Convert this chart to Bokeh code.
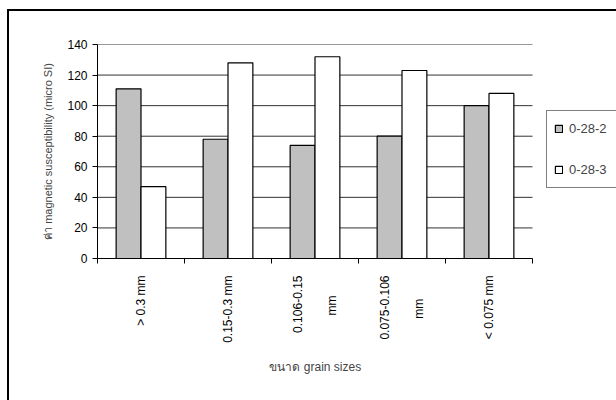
import numpy as np
from bokeh.plotting import figure
from bokeh.models import ColumnDataSource, FixedTicker, Legend, LegendItem
from bokeh.embed import file_html
from bokeh.resources import INLINE

# grain-size classes and magnetic susceptibility (micro SI) for two samples
NB = "\u00a0"
categories = ["> 0.3 mm",
              "0.15-0.3 mm",
              "0.106-0.15\n\nmm" + NB * 6,
              "0.075-0.106\n\nmm" + NB * 7,
              "< 0.075 mm"]
sample_a_name = "0-28-2"
sample_b_name = "0-28-3"
sample_a = [111, 78, 74, 80, 100]
sample_b = [47, 128, 132, 123, 108]
y_ticks = [0, 20, 40, 60, 80, 100, 120, 140]
x_title = "ขนาด grain sizes"
y_title = "ค่า magnetic susceptibility (micro SI)"

FONT = "Liberation Sans"
bar_w = 1 / 3.5  # two bars plus a 150% gap per class

# canvas geometry: bar area is 435 px wide, the remaining strip on the right holds the legend
W, H = 616, 400
LEFT, TOP, BOTTOM = 97, 44, 142
BAR_AREA = 435
n = len(categories)
x_end = n * (W - LEFT) / BAR_AREA

centers = np.arange(n) + 0.5
src_a = ColumnDataSource(dict(x=centers - bar_w / 2, top=sample_a))
src_b = ColumnDataSource(dict(x=centers + bar_w / 2, top=sample_b))

p = figure(width=W, height=H, output_backend="svg", toolbar_location=None,
           x_range=(0, x_end), y_range=(0, 140),
           min_border_left=LEFT, min_border_right=0,
           min_border_top=TOP, min_border_bottom=BOTTOM)
p.outline_line_color = None
p.background_fill_color = "white"
p.border_fill_color = None

# outer chart border (left and top edges), painted behind the transparent border area
p.styles = {
    "background-color": "white",
    "background-image": "linear-gradient(#000,#000), linear-gradient(#000,#000)",
    "background-size": "2px 100%, 100% 2px",
    "background-position": "7px 9px, 7px 9px",
    "background-repeat": "no-repeat",
}

# horizontal gridlines over the bar area only
grid_y = y_ticks[1:]
p.segment(x0=[0] * len(grid_y), x1=[n] * len(grid_y), y0=grid_y, y1=grid_y,
          line_color="#333333", line_width=1)

ra = p.vbar(x="x", top="top", width=bar_w, source=src_a,
            fill_color="#C0C0C0", line_color="black", line_width=1.2)
rb = p.vbar(x="x", top="top", width=bar_w, source=src_b,
            fill_color="white", line_color="black", line_width=1.2)

# x axis: labels at class centres, ticks at class boundaries
xa = p.xaxis[0]
xa.bounds = (0, n)
xa.ticker = FixedTicker(ticks=list(centers), minor_ticks=list(range(n + 1)))
xa.major_label_overrides = {float(c): lab for c, lab in zip(centers, categories)}
xa.major_label_orientation = np.pi / 2
xa.major_tick_line_color = None
xa.major_tick_out = 0
xa.major_tick_in = 0
xa.minor_tick_line_color = "black"
xa.minor_tick_out = 5
xa.minor_tick_in = 0
xa.major_label_standoff = 12
xa.major_label_text_font = FONT
xa.major_label_text_font_size = "12px"
xa.major_label_text_color = "black"
xa.axis_line_color = "black"
# trailing no-break spaces keep the title centred under the bars rather than the whole frame
xa.axis_label = x_title + NB * 25
xa.axis_label_text_font = FONT
xa.axis_label_text_font_size = "12px"
xa.axis_label_text_font_style = "normal"
xa.axis_label_standoff = 14

ya = p.yaxis[0]
ya.ticker = FixedTicker(ticks=y_ticks)
ya.minor_tick_line_color = None
ya.major_tick_out = 5
ya.major_tick_in = 0
ya.major_label_standoff = 5
ya.major_label_text_font = FONT
ya.major_label_text_font_size = "12px"
ya.major_label_text_color = "black"
ya.axis_line_color = "black"
ya.axis_label = y_title
ya.axis_label_text_font = FONT
ya.axis_label_text_font_size = "11px"
ya.axis_label_text_font_style = "normal"
ya.axis_label_standoff = 10

p.xgrid.grid_line_color = None
p.ygrid.grid_line_color = None

legend = Legend(items=[LegendItem(label=sample_a_name, renderers=[ra]),
                       LegendItem(label=sample_b_name, renderers=[rb])],
                location=(449, 70), orientation="vertical",
                border_line_color="black", border_line_width=1,
                background_fill_color="white", background_fill_alpha=1,
                padding=7, spacing=20, label_height=21, label_width=50,
                glyph_height=9, glyph_width=9, label_standoff=6, margin=0,
                label_text_font=FONT, label_text_font_size="13px")
p.add_layout(legend, "center")

open("out.html", "w").write(file_html(p, INLINE))
